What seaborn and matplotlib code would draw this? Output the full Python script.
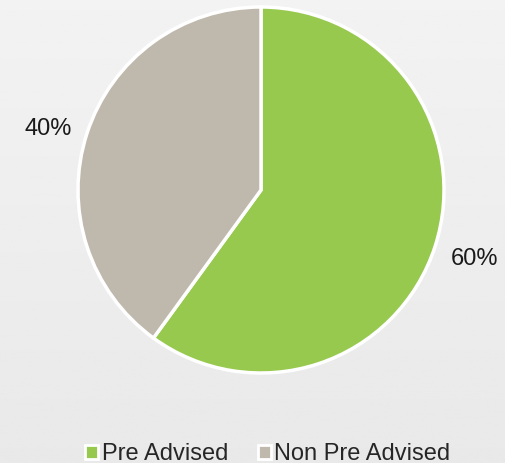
import numpy as np
import matplotlib.pyplot as plt
import seaborn as sns
from matplotlib.patches import Patch

# === DATA ===
labels = ["Pre Advised", "Non Pre Advised"]
shares = [60, 40]
colors = ["#97c94f", "#bfb8ad"]

sns.set_theme(style="white")
plt.rcParams['font.family'] = ['Liberation Sans', 'DejaVu Sans']

fig = plt.figure(figsize=(5.05, 4.63), dpi=100)

# soft vertical gradient background
bg = fig.add_axes([0, 0, 1, 1], zorder=0)
grad = np.linspace(0.95, 0.913, 256).reshape(-1, 1)
bg.imshow(grad, cmap="gray", vmin=0, vmax=1, aspect="auto", extent=[0, 1, 0, 1])
bg.axis("off")

# pie axes: center ~ (261, 190) px, radius ~183 px
r = 183
cx, cy = 261, 463 - 190
ax = fig.add_axes([(cx - r) / 505, (cy - r) / 463, 2 * r / 505, 2 * r / 463], zorder=1)
ax.set_facecolor("none")
wedges, texts = ax.pie(
    shares,
    colors=colors,
    startangle=90,
    counterclock=False,
    labels=[f"{s}%" for s in shares],
    labeldistance=1.225,
    wedgeprops=dict(edgecolor="white", linewidth=2.5),
    textprops=dict(fontsize=17, color="#1a1a1a"),
)
ax.set_xlim(-1, 1)
ax.set_ylim(-1, 1)
ax.set_aspect("equal")
for t in texts:
    t.set_clip_on(False)
    t.set_ha("center")
    t.set_va("center")
# the small label sits a touch lower in the original
x0, y0 = texts[1].get_position()
texts[1].set_position((x0, y0 - 0.045))

handles = [Patch(facecolor=c, edgecolor="white", linewidth=2) for c in colors]
fig.legend(handles, labels, loc="center", bbox_to_anchor=(268 / 505, 9 / 463), ncol=2,
           frameon=False, fontsize=17, handlelength=0.55, handleheight=0.55,
           handletextpad=0.15, columnspacing=1.25, borderpad=0)

fig.savefig("out.png", dpi=100)
